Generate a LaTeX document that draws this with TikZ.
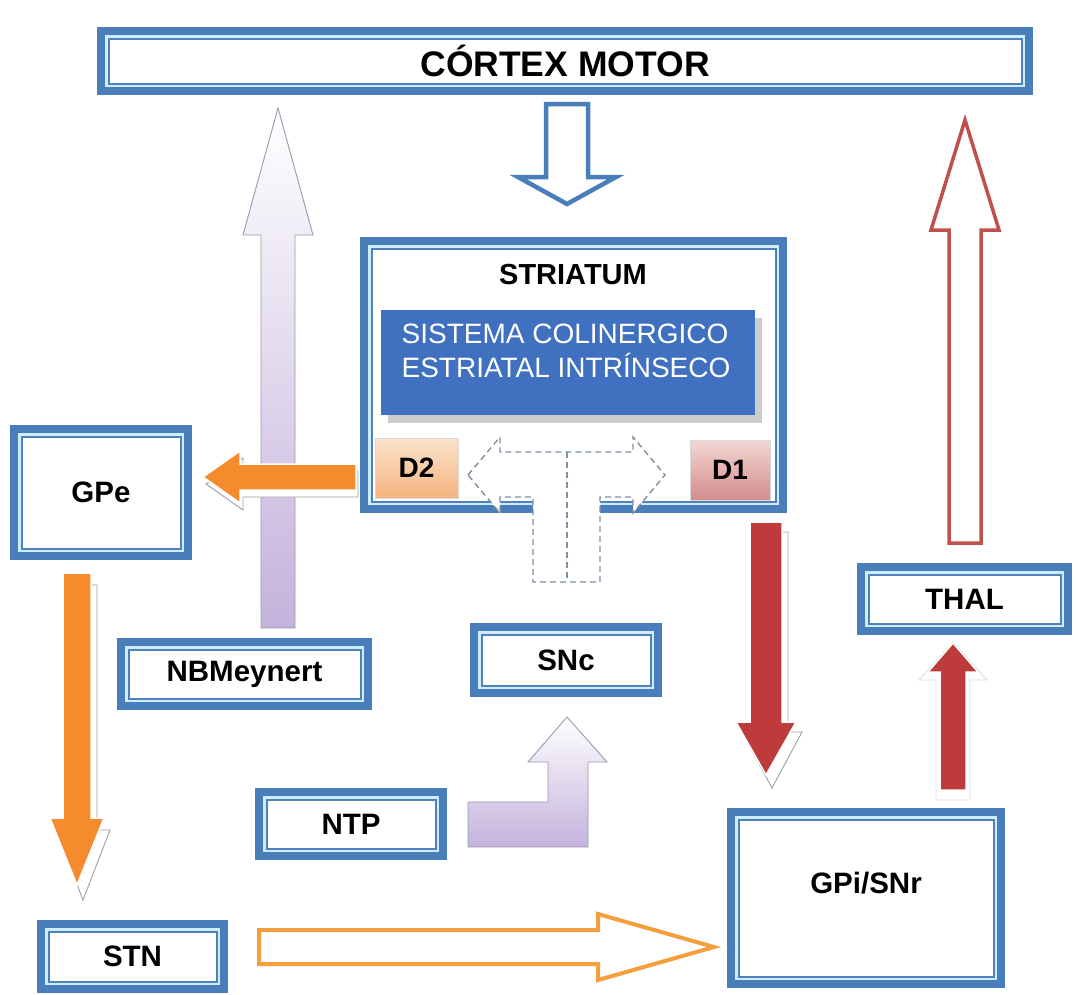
\documentclass[tikz,border=0pt]{standalone}
\usepackage{fontspec}
\setmainfont{Liberation Sans}
\usetikzlibrary{shadows}

\definecolor{boxblue}{HTML}{4A7EBB}
\definecolor{innerblue}{HTML}{4F81BD}
\definecolor{gapcyan}{HTML}{CDEEF8}
\definecolor{sysblue}{HTML}{4070C0}
\definecolor{arrorange}{HTML}{F68B2E}
\definecolor{lineorange}{HTML}{F59E3E}
\definecolor{arrred}{HTML}{BE3B3B}
\definecolor{linered}{HTML}{C0504D}
\definecolor{lav}{HTML}{C4B2DC}
\definecolor{lavline}{HTML}{9C98AE}
\definecolor{dashgray}{HTML}{7F8FA6}
\definecolor{shadowline}{HTML}{A0A0A0}
\definecolor{dtwotop}{HTML}{FBE2CC}
\definecolor{dtwobot}{HTML}{F6B47E}
\definecolor{donetop}{HTML}{F3D6D3}
\definecolor{donebot}{HTML}{D38C8B}

\newcommand\cortexfont{\fontsize{35.5}{40}\selectfont\bfseries}
\newcommand\striafont{\fontsize{29}{34}\selectfont\bfseries}
\newcommand\lblfont{\fontsize{29.5}{34}\selectfont\bfseries}
\newcommand\dlabfont{\fontsize{28}{32}\selectfont\bfseries}
\newcommand\sysfont{\fontsize{28}{34}\selectfont}

\tikzset{
  % double-framed blue box: thick outer frame, light gap, thin inner line
  nbox/.style={draw=boxblue, line width=8pt, fill=white, inner sep=0pt, font=\lblfont,
    path picture={
      \draw[draw=gapcyan, line width=2.6pt]
        ([shift={(5.3pt,-5.3pt)}]path picture bounding box.north west) rectangle
        ([shift={(-5.3pt,5.3pt)}]path picture bounding box.south east);
      \draw[draw=innerblue, line width=2pt]
        ([shift={(7.5pt,-7.5pt)}]path picture bounding box.north west) rectangle
        ([shift={(-7.5pt,7.5pt)}]path picture bounding box.south east);
    }},
  dbox/.style={draw=black!15, line width=0.6pt, inner sep=0pt, font=\dlabfont},
  sysbox/.style={fill=sysblue, inner sep=0pt,
    drop shadow={fill=black!20, opacity=1, shadow xshift=7pt, shadow yshift=-8pt}},
  % vertical block arrow: {x}{tail y}{head base y}{tip y}{shaft half}{head half}
  varrow/.style n args={6}{insert path={(#1-#5,#2) -- (#1-#5,#3) -- (#1-#6,#3) -- (#1,#4)
      -- (#1+#6,#3) -- (#1+#5,#3) -- (#1+#5,#2) -- cycle}},
  % horizontal block arrow: {y}{tail x}{head base x}{tip x}{shaft half}{head half}
  harrow/.style n args={6}{insert path={(#2,#1-#5) -- (#3,#1-#5) -- (#3,#1-#6) -- (#4,#1)
      -- (#3,#1+#6) -- (#3,#1+#5) -- (#2,#1+#5) -- cycle}},
  hollowblue/.style={draw=boxblue, line width=4.5pt, fill=white, line join=miter},
  hollowred/.style={draw=linered, line width=3.5pt, fill=white, line join=miter},
  holloworange/.style={draw=lineorange, line width=4pt, fill=white, line join=miter},
  solidorange/.style={fill=arrorange, draw=white, line width=1.5pt},
  solidred/.style={fill=arrred, draw=white, line width=1.5pt},
  lavarrow/.style={top color=white, bottom color=lav, draw=lavline, line width=0.9pt},
  arrshadow/.style={fill=white, draw=shadowline, line width=0.9pt},
  tdash/.style={draw=dashgray, line width=1.4pt, dash pattern=on 6pt off 4pt, fill=white},
}

\begin{document}
\begin{tikzpicture}[x=1pt,y=-1pt]
\useasboundingbox (0,0) rectangle (1078,994);
\fill[white] (0,0) rectangle (1078,994);

% ---------- boxes ----------
\node[nbox, font=\cortexfont, minimum width=928pt, minimum height=60pt] (cortex) at (565,61) {CÓRTEX MOTOR};

\node[nbox, minimum width=419pt, minimum height=268pt] (striatum) at (573.5,375) {};
\node[font=\striafont] (striatumlabel) at (573,275) {STRIATUM};
\node[sysbox, minimum width=374pt, minimum height=105pt] (sys) at (568,362.5) {};
\node[font=\sysfont, text=white, align=left] (systext) at (566,351) {SISTEMA COLINERGICO\\ESTRIATAL INTRÍNSECO};
\node[dbox, top color=dtwotop, bottom color=dtwobot, minimum width=83pt, minimum height=60pt] (d2) at (416.5,468) {D2};
\node[dbox, top color=donetop, bottom color=donebot, minimum width=80pt, minimum height=60pt] (d1) at (730,470) {D1};

\node[nbox, minimum width=174pt, minimum height=127pt] (gpe) at (101,492.5) {GPe};
\node[nbox, minimum width=247pt, minimum height=64pt] (nbm) at (244.5,674) {NBMeynert};
\node[nbox, minimum width=184pt, minimum height=66pt] (snc) at (566,660) {SNc};
\node[nbox, minimum width=184pt, minimum height=64pt] (ntp) at (351,824) {NTP};
\node[nbox, minimum width=183pt, minimum height=65pt] (stn) at (132.5,956.5) {STN};
\node[nbox, minimum width=270pt, minimum height=172pt,
      label={[font=\lblfont, yshift=15pt]center:GPi/SNr}] (gpi) at (866,898) {};
\node[nbox, minimum width=207pt, minimum height=64pt] (thal) at (964.5,599) {THAL};

% ---------- arrows ----------
% motor cortex -> striatum
\draw[hollowblue] [varrow={567}{104}{177}{204}{21}{49}];

% NB Meynert -> cortex (cholinergic)
\draw[lavarrow] [varrow={278}{628}{235}{108}{17}{35}];

% striatum (D2) -> GPe
\draw[arrshadow] [harrow={484}{358}{243}{206}{13}{26}];
\draw[solidorange] [harrow={477}{356}{240}{203}{13}{26}];

% dopaminergic T-arrow from SNc into the striatum
\draw[tdash] (468,475) -- (500,437) -- (500,452) -- (633,452) -- (633,437) -- (665,475)
  -- (633,513) -- (633,497) -- (600,497) -- (600,582) -- (533,582) -- (533,497)
  -- (500,497) -- (500,513) -- cycle;
\draw[tdash] (567,452) -- (567,582);

% striatum (D1) -> GPi/SNr
\draw[arrshadow] [varrow={772}{532}{732}{788}{16}{30}];
\draw[solidred] [varrow={766}{522}{722}{775}{16}{30}];

% GPe -> STN
\draw[arrshadow] [varrow={83}{585}{830}{900}{14}{27}];
\draw[solidorange] [varrow={77}{573}{818}{885}{14}{27}];

% NTP -> SNc
\draw[lavarrow] (468,847) -- (588,847) -- (588,762) -- (607,762) -- (567,717)
  -- (528,762) -- (548,762) -- (548,802) -- (468,802) -- cycle;

% STN -> GPi/SNr
\draw[holloworange] [harrow={947}{259}{598}{714}{17}{33}];

% GPi/SNr -> thalamus
\draw[arrshadow, draw opacity=0.35] [varrow={953}{800}{680}{642}{17}{34}];
\draw[solidred] [varrow={953}{790}{672}{643}{13}{25}];

% thalamus -> motor cortex
\draw[hollowred] [varrow={965}{543}{230}{120}{16}{34}];
\end{tikzpicture}
\end{document}
